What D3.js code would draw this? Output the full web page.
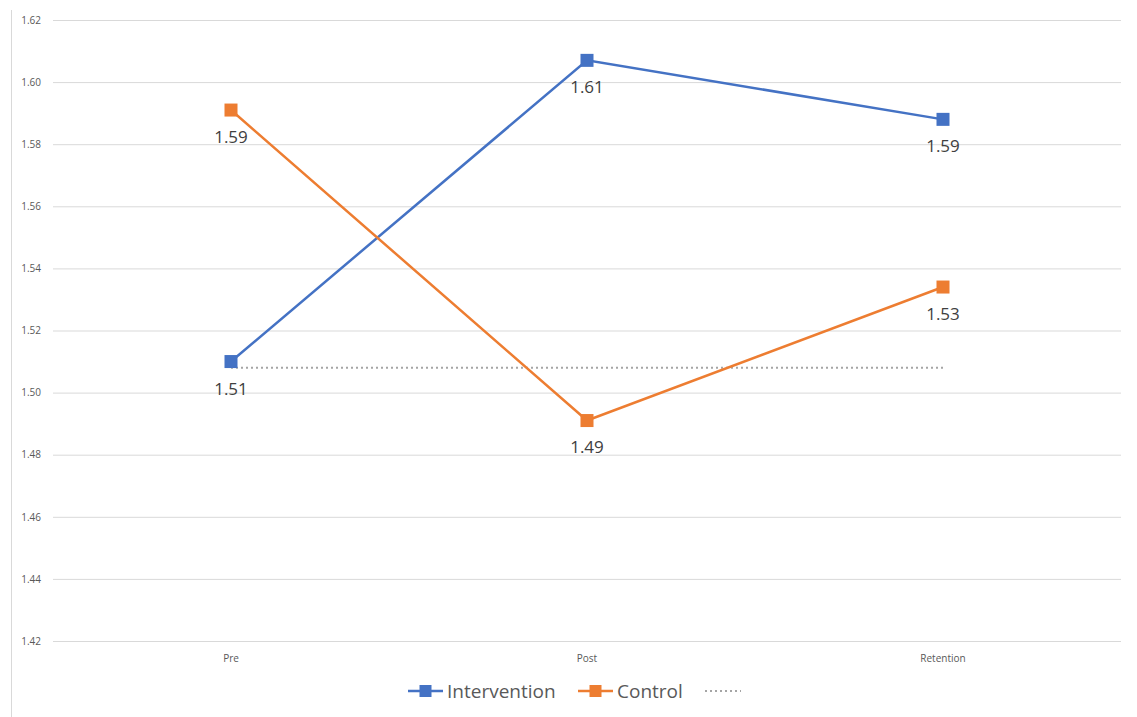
<!DOCTYPE html>
<html>
<head>
<meta charset="utf-8">
<script src="https://cdn.jsdelivr.net/npm/d3@7"></script>
<style>
  html, body { margin: 0; padding: 0; background: #fff; }
  svg { display: block; font-family: "Open Sans", sans-serif; }
</style>
</head>
<body>
<svg id="chart" width="1137" height="717"></svg>
<script>
// ── Data ────────────────────────────────────────────────────────────────────
const categories   = ["Pre", "Post", "Retention"];
const intervention = [1.510, 1.607, 1.588];
const control      = [1.591, 1.491, 1.534];
const baseline     = [1.508, 1.508, 1.508];
const yTicks       = [1.42, 1.44, 1.46, 1.48, 1.50, 1.52, 1.54, 1.56, 1.58, 1.60, 1.62];

const series = [
  { name: "Intervention", values: intervention, color: "#4472c4" },
  { name: "Control",      values: control,      color: "#ed7d31" },
];

// ── Layout ──────────────────────────────────────────────────────────────────
const W = 1137, H = 717;
const plot = { left: 53, right: 1121, top: 20, bottom: 641 };
const FONT = "'Open Sans', sans-serif";

const svg = d3.select("#chart");

// chart frame, left edge
svg.append("line")
  .attr("x1", 11.5).attr("x2", 11.5)
  .attr("y1", 10).attr("y2", H)
  .attr("stroke", "#d9d9d9").attr("stroke-width", 1);

const x = d3.scaleBand()
  .domain(categories)
  .range([plot.left, plot.right]);

const y = d3.scaleLinear()
  .domain([1.42, 1.62])
  .range([plot.bottom, plot.top]);

const cx = c => x(c) + x.bandwidth() / 2;

// ── Gridlines + y labels ────────────────────────────────────────────────────
const yAxis = d3.axisLeft(y)
  .tickValues(yTicks)
  .tickFormat(d3.format(".2f"))
  .tickSize(-(plot.right - plot.left))
  .tickPadding(12);

const gy = svg.append("g")
  .attr("transform", `translate(${plot.left},0)`)
  .call(yAxis);
gy.select(".domain").remove();
gy.selectAll(".tick line").attr("stroke", "#d9d9d9").attr("stroke-width", 1);
gy.selectAll(".tick text")
  .attr("fill", "#595959")
  .style("font-size", "10px")
  .style("font-family", FONT);

// ── Category labels ─────────────────────────────────────────────────────────
const xAxis = d3.axisBottom(x).tickSize(0).tickPadding(14);
const gx = svg.append("g")
  .attr("transform", `translate(0,${plot.bottom})`)
  .call(xAxis);
gx.select(".domain").remove();
gx.selectAll(".tick text")
  .attr("fill", "#595959")
  .style("font-size", "10px")
  .style("font-family", FONT);

// ── Baseline (dotted) ───────────────────────────────────────────────────────
const line = d3.line()
  .x((d, i) => cx(categories[i]))
  .y(d => y(d));

svg.append("path")
  .datum(baseline)
  .attr("d", line)
  .attr("fill", "none")
  .attr("stroke", "#a5a5a5")
  .attr("stroke-width", 2)
  .attr("stroke-dasharray", "2,3");

// ── Series ──────────────────────────────────────────────────────────────────
series.forEach(s => {
  svg.append("path")
    .datum(s.values)
    .attr("d", line)
    .attr("fill", "none")
    .attr("stroke", s.color)
    .attr("stroke-width", 2.5);

  svg.selectAll(null)
    .data(s.values)
    .enter().append("rect")
    .attr("x", (d, i) => cx(categories[i]) - 6.5)
    .attr("y", d => y(d) - 6.5)
    .attr("width", 13).attr("height", 13)
    .attr("fill", s.color);

  svg.selectAll(null)
    .data(s.values)
    .enter().append("text")
    .attr("x", (d, i) => cx(categories[i]))
    .attr("y", d => y(d) + 27)
    .attr("dy", "0.35em")
    .attr("text-anchor", "middle")
    .attr("fill", "#404040")
    .style("font-size", "17px")
    .text(d => d3.format(".2f")(d));
});

// ── Legend ──────────────────────────────────────────────────────────────────
const legendItems = [
  { name: "Intervention", color: "#4472c4", x: 408, marker: true },
  { name: "Control",      color: "#ed7d31", x: 578, marker: true },
  { name: "",             color: "#a5a5a5", x: 705, marker: false },
];
const ly = 691;
legendItems.forEach(it => {
  const g = svg.append("g").attr("transform", `translate(${it.x},${ly})`);
  if (it.marker) {
    g.append("line").attr("x1", 0).attr("x2", 35).attr("y1", 0).attr("y2", 0)
      .attr("stroke", it.color).attr("stroke-width", 2.5);
    g.append("rect").attr("x", 11.5).attr("y", -6).attr("width", 12).attr("height", 12)
      .attr("fill", it.color);
    g.append("text").attr("x", 39).attr("y", 0).attr("dy", "0.35em")
      .attr("fill", "#595959").style("font-size", "19px").text(it.name);
  } else {
    g.append("line").attr("x1", 0).attr("x2", 36).attr("y1", 0).attr("y2", 0)
      .attr("stroke", it.color).attr("stroke-width", 2).attr("stroke-dasharray", "2,3");
  }
});
</script>
</body>
</html>
